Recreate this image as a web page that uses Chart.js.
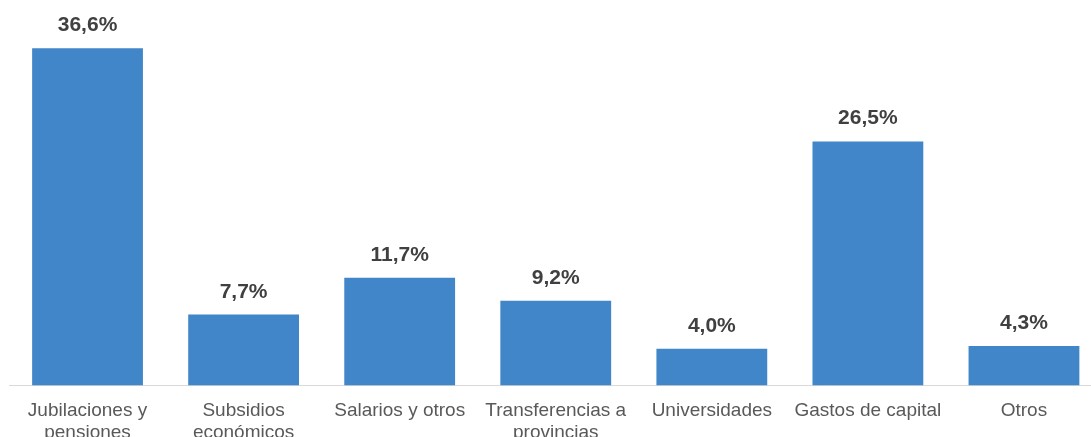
<!DOCTYPE html>
<html>
<head>
<meta charset="utf-8">
<script src="https://cdn.jsdelivr.net/npm/chart.js@4.4.0/dist/chart.umd.min.js"></script>
<style>
  html, body { margin: 0; padding: 0; background: #fff; overflow: hidden; }
  #wrap { width: 1102px; height: 458px; }
</style>
</head>
<body>
<div id="wrap"><canvas id="gastoChart"></canvas></div>
<script>
// Categories and values
const categories = [
    ["Jubilaciones y", "pensiones"],
    ["Subsidios", "económicos"],
    "Salarios y otros",
    ["Transferencias a", "provincias"],
    "Universidades",
    "Gastos de capital",
    "Otros"
];
const shares = [36.6, 7.7, 11.7, 9.2, 4.0, 26.5, 4.3];

// Draw value labels above each bar
const valueLabels = {
    id: 'valueLabels',
    afterDatasetsDraw(chart) {
        const ctx = chart.ctx;
        const meta = chart.getDatasetMeta(0);
        ctx.save();
        ctx.font = 'bold 21px "Liberation Sans", Arial, sans-serif';
        ctx.fillStyle = '#404040';
        ctx.textAlign = 'center';
        ctx.textBaseline = 'alphabetic';
        meta.data.forEach((bar, i) => {
            const txt = shares[i].toFixed(1).replace('.', ',') + '%';
            ctx.fillText(txt, bar.x, bar.y - 17);
        });
        ctx.restore();
    }
};

new Chart(document.getElementById('gastoChart').getContext('2d'), {
    type: 'bar',
    data: {
        labels: categories,
        datasets: [{
            data: shares,
            backgroundColor: '#4186c8',
            categoryPercentage: 1,
            barPercentage: 0.71
        }]
    },
    options: {
        responsive: true,
        maintainAspectRatio: false,
        animation: false,
        layout: { padding: { top: 17, left: 9.5, right: 0, bottom: 0 } },
        plugins: {
            legend: { display: false },
            tooltip: { enabled: false }
        },
        scales: {
            x: {
                grid: { display: false, drawTicks: false },
                border: { display: true, color: '#d9d9d9', width: 1 },
                ticks: {
                    padding: 14,
                    maxRotation: 0,
                    autoSkip: false,
                    color: '#595959',
                    font: { family: '"Liberation Sans", Arial, sans-serif', size: 19, lineHeight: 1.17 }
                }
            },
            y: {
                display: false,
                min: 0,
                max: 40
            }
        }
    },
    plugins: [valueLabels]
});
</script>
</body>
</html>
